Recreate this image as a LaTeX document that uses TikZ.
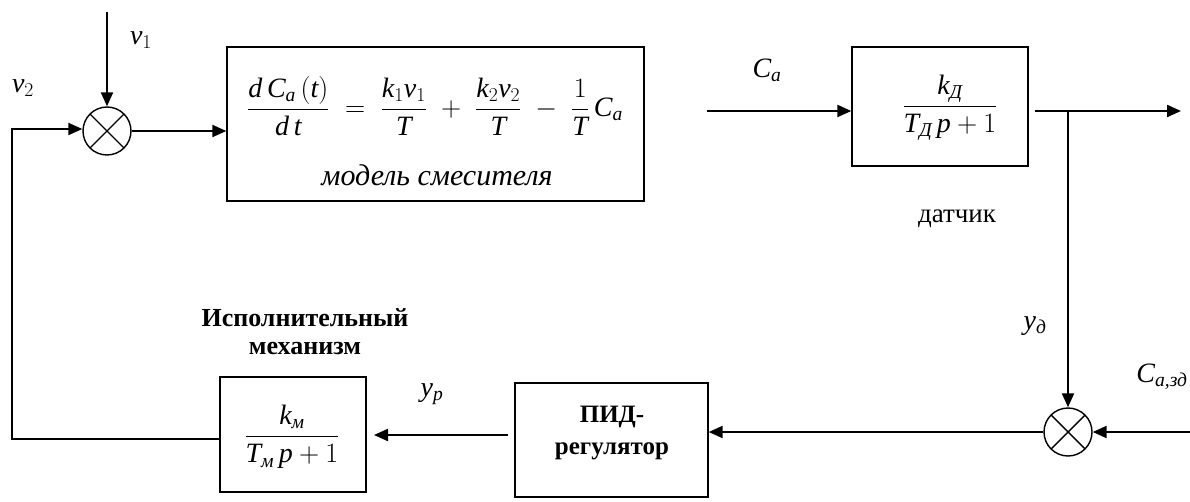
\RequirePackage{fix-cm}
\documentclass[tikz,border=0pt]{standalone}
\usepackage{amsmath}
\usepackage{fontspec}
\setmainfont{Liberation Serif}
\newfontfamily\libserif{Liberation Serif}[NFSSFamily=libserif]
\DeclareSymbolFont{letters}{TU}{libserif}{m}{it}
\usetikzlibrary{arrows.meta}
\tikzset{
  blk/.style={draw, line width=1.4pt, inner sep=0pt},
  sumj/.style={circle, draw, line width=1.4pt, minimum size=48pt, inner sep=0pt,
    path picture={\draw[line width=1.4pt]
      (path picture bounding box.north west) -- (path picture bounding box.south east)
      (path picture bounding box.north east) -- (path picture bounding box.south west);}},
  sig/.style={line width=2.2pt, -{Triangle[length=14pt,width=12pt]}},
  lbl/.style={font=\fontsize{28}{32}\selectfont, inner sep=0pt},
  txt/.style={font=\fontsize{27}{30}\selectfont, inner sep=0pt, align=center},
}
\begin{document}
\begin{tikzpicture}[x=1pt,y=-1pt]
\useasboundingbox (0,0) rectangle (1190,502);
% blocks
\node[sumj] (s1) at (107,131) {};
\node[sumj] (s2) at (1068,432) {};
\node[blk, minimum width=417pt, minimum height=154pt] (model) at (435.5,124) {};
\node[blk, minimum width=176pt, minimum height=119pt] (sens) at (940,106.5) {};
\node[blk, minimum width=193pt, minimum height=114pt] (pid) at (611.5,440) {};
\node[blk, minimum width=146pt, minimum height=115pt] (act) at (293,434.5) {};
% contents
\node[lbl] (eq) at (435,106) {$\dfrac{d\,C_a\,(t)}{d\,t}\;=\;\dfrac{k_1v_1}{T}\;+\;\dfrac{k_2v_2}{T}\;-\;\dfrac{1}{T}\,C_a$};
\node[lbl, font=\fontsize{30}{34}\selectfont] (eqname) at (437,175) {\itshape модель смесителя};
\node[lbl] (sensf) at (950,108) {$\dfrac{k_{\textit{Д}}}{T_{\textit{Д}}\,p+1}$};
\node[lbl] (actf) at (292,437) {$\dfrac{k_{\textit{м}}}{T_{\textit{м}}\,p+1}$};
\node[txt, font=\fontsize{25}{32}\selectfont\bfseries] (pidt) at (612,433) {ПИД-\\регулятор};
\node[txt, font=\fontsize{26}{28}\selectfont\bfseries] (actt) at (305,332) {Исполнительный\\механизм};
\node[txt] (senst) at (957,219) {датчик};
% labels
\node[lbl] (lv1) at (141,40) {$v_1$};
\node[lbl] (lv2) at (23,88) {$v_2$};
\node[lbl] (lca) at (767,70) {$C_a$};
\node[lbl] (lyd) at (1035,326) {$y_{\textit{д}}$};
\node[lbl] (lcz) at (1162,377) {$C_{\textit{a,зд}}$};
\node[lbl] (lyp) at (432,394) {$y_p$};
% coordinates
\coordinate (v1s) at (107,12);
\coordinate (cas) at (707,111);
\coordinate (outs) at (1035,111);
\coordinate (oute) at (1181,111);
\coordinate (br) at (1068,111);
\coordinate (cz) at (1190,432);
\coordinate (ps) at (508,435);
\coordinate (pe) at (374,435);
\coordinate (lb) at (12,439);
\coordinate (lt) at (12,129);
% connectors
\draw[sig] (v1s) -- (s1.north);
\draw[sig] (act.west |- lb) -- (lb) -- (lt) -- (lt -| s1.west);
\draw[sig] (s1.east) -- (s1.east -| model.west);
\draw[sig] (cas) -- (cas -| sens.west);
\draw[sig] (outs) -- (oute);
\draw[sig] (br) -- (s2.north);
\draw[sig] (cz) -- (s2.east);
\draw[sig] (s2.west) -- (s2.west -| pid.east);
\draw[sig] (ps) -- (pe);
\end{tikzpicture}
\end{document}
